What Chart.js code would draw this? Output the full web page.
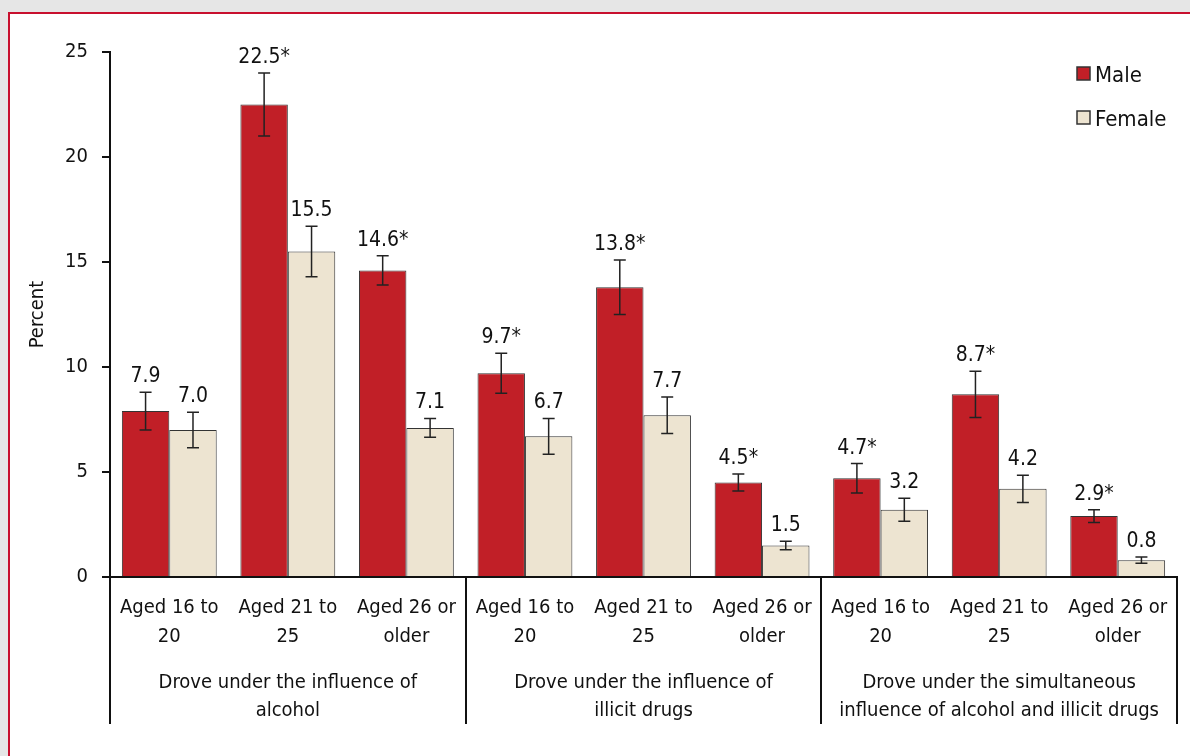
<!DOCTYPE html>
<html>
<head>
<meta charset="utf-8">
<script src="https://cdn.jsdelivr.net/npm/chart.js@4.4.0/dist/chart.umd.min.js"></script>
<style>
  html, body { margin: 0; padding: 0; width: 1190px; height: 756px; overflow: hidden; background: #e6e6e6; }
  #frame { position: absolute; left: 8px; top: 12px; width: 1200px; height: 760px; background: #fff;
           border-left: 2px solid #c8102e; border-top: 2px solid #c8102e; }
  #wrap  { position: absolute; left: 0; top: 0; width: 1190px; height: 756px; }
</style>
</head>
<body>
<div id="frame"></div>
<div id="wrap"><canvas id="chart"></canvas></div>
<script>
'use strict';

// ── Data ──────────────────────────────────────────────────
const ageGroups   = [['Aged 16 to', '20'], ['Aged 21 to', '25'], ['Aged 26 or', 'older']];
const categories  = [...ageGroups, ...ageGroups, ...ageGroups];
const groupLabels = [
  ['Drove under the influence of', 'alcohol'],
  ['Drove under the influence of', 'illicit drugs'],
  ['Drove under the simultaneous', 'influence of alcohol and illicit drugs']
];

const maleValues    = [7.9, 22.5, 14.6, 9.7, 13.8, 4.5, 4.7, 8.7, 2.9];
const maleErrors    = [0.9, 1.5, 0.7, 0.95, 1.3, 0.4, 0.7, 1.1, 0.3];
const maleSig       = [false, true, true, true, true, true, true, true, true];

const femaleValues  = [7.0, 15.5, 7.1, 6.7, 7.7, 1.5, 3.2, 4.2, 0.8];
const femaleErrors  = [0.85, 1.2, 0.45, 0.85, 0.87, 0.2, 0.55, 0.65, 0.15];
const femaleSig     = [false, false, false, false, false, false, false, false, false];

const yMin = 0, yMax = 25, yStep = 5;

// ── Style ─────────────────────────────────────────────────
const FONT   = '"Liberation Sans Narrow", "Arial Narrow", "DejaVu Sans Condensed", Roboto, sans-serif';
const INK    = '#111';
const RED    = '#c11f27';
const BEIGE  = '#ede4d1';
const EDGE   = '#333';

// ── Plugins ───────────────────────────────────────────────
const errorBars = {
  id: 'errorBars',
  afterDatasetsDraw(chart) {
    const { ctx, scales: { y } } = chart;
    ctx.save();
    chart.data.datasets.forEach((ds, di) => {
      const meta = chart.getDatasetMeta(di);
      meta.data.forEach((bar, i) => {
        const v = ds.data[i], e = ds.errors[i];
        const top = y.getPixelForValue(v + e);
        const bot = y.getPixelForValue(v - e);
        ctx.strokeStyle = '#222';
        ctx.lineWidth = 1.5;
        ctx.beginPath();
        ctx.moveTo(bar.x, top);      ctx.lineTo(bar.x, bot);
        ctx.moveTo(bar.x - 6, top);  ctx.lineTo(bar.x + 6, top);
        ctx.moveTo(bar.x - 6, bot);  ctx.lineTo(bar.x + 6, bot);
        ctx.stroke();

        ctx.fillStyle = INK;
        ctx.font = `21px ${FONT}`;
        ctx.textAlign = 'center';
        ctx.textBaseline = 'alphabetic';
        ctx.fillText(v.toFixed(1) + (ds.sig[i] ? '*' : ''), bar.x, top - 10);
      });
    });
    ctx.restore();
  }
};

const sideLegend = {
  id: 'sideLegend',
  afterDraw(chart) {
    const { ctx } = chart;
    ctx.save();
    chart.data.datasets.forEach((ds, i) => {
      const y = 67 + i * 44;
      ctx.fillStyle = ds.backgroundColor;
      ctx.fillRect(1077, y, 13, 13);
      ctx.strokeStyle = EDGE;
      ctx.lineWidth = 1.5;
      ctx.strokeRect(1077, y, 13, 13);
      ctx.fillStyle = INK;
      ctx.font = `22px ${FONT}`;
      ctx.textAlign = 'left';
      ctx.textBaseline = 'alphabetic';
      ctx.fillText(ds.label, 1095, y + 14.5);
    });
    ctx.restore();
  }
};

// ── Chart ─────────────────────────────────────────────────
const tickFont = { family: FONT, size: 20, lineHeight: 1.45 };

new Chart(document.getElementById('chart'), {
  type: 'bar',
  data: {
    labels: categories,
    datasets: [
      { label: 'Male',   data: maleValues,   errors: maleErrors,   sig: maleSig,
        backgroundColor: RED,   borderColor: EDGE, borderWidth: 1 },
      { label: 'Female', data: femaleValues, errors: femaleErrors, sig: femaleSig,
        backgroundColor: BEIGE, borderColor: EDGE, borderWidth: 1 }
    ]
  },
  options: {
    responsive: true, maintainAspectRatio: false, animation: false,
    layout: { padding: { top: 52, right: 13, left: 0, bottom: 0 } },
    datasets: { bar: { categoryPercentage: 0.8, barPercentage: 1.0 } },
    plugins: { legend: { display: false }, tooltip: { enabled: false } },
    scales: {
      y: {
        min: yMin, max: yMax,
        ticks: { stepSize: yStep, color: INK, font: { family: FONT, size: 20 }, padding: 14 },
        grid: { drawOnChartArea: false, drawTicks: true, tickLength: 8, color: INK, lineWidth: 2 },
        border: { display: true, color: INK, width: 2 },
        title: { display: true, text: 'Percent', color: INK, font: { family: FONT, size: 20 },
                 padding: { top: 26, bottom: 0 } },
        afterFit: s => { s.width = 110; }
      },
      x: {
        weight: 0,
        grid: {
          offset: true, drawOnChartArea: false, drawTicks: true, tickLength: 80, lineWidth: 2,
          color: c => (c.type !== 'tick' || c.index % 3 === 0) ? INK : 'rgba(0,0,0,0)'
        },
        border: { display: true, color: INK, width: 2 },
        ticks: { color: INK, font: tickFont, padding: -64, maxRotation: 0, autoSkip: false },
        afterFit: s => { s.height = 80; }
      },
      x2: {
        type: 'category', labels: groupLabels, position: 'bottom', offset: true, weight: 1,
        grid: { offset: true, drawOnChartArea: false, drawTicks: true, tickLength: 67, lineWidth: 2, color: INK },
        border: { display: false },
        ticks: { color: INK, font: { family: FONT, size: 20, lineHeight: 1.4 }, padding: -55,
                 maxRotation: 0, autoSkip: false },
        afterFit: s => { s.height = 99; }
      }
    }
  },
  plugins: [errorBars, sideLegend]
});
</script>
</body>
</html>
